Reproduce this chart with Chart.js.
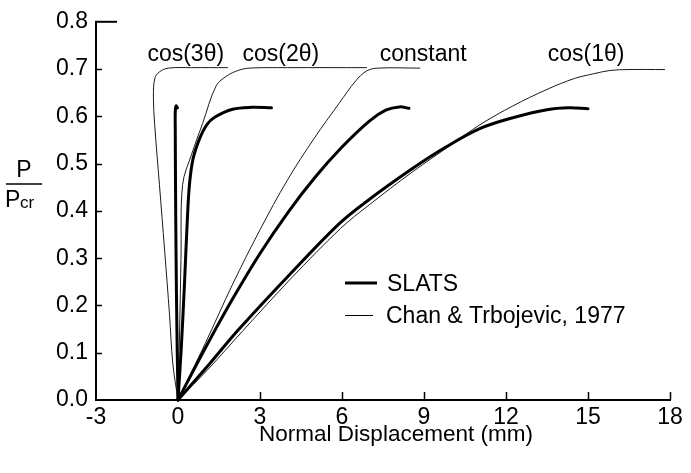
<!DOCTYPE html>
<html>
<head>
<meta charset="utf-8">
<script src="https://cdn.jsdelivr.net/npm/chart.js@4.4.0/dist/chart.umd.min.js"></script>
<style>
html,body{margin:0;padding:0;background:#fff;}
#wrap{width:691px;height:473px;position:relative;}
</style>
</head>
<body>
<div id="wrap"><canvas id="c" width="691" height="473"></canvas></div>
<script>
// ---- data ----
const xTickValues = [-3, 0, 3, 6, 9, 12, 15, 18];
const yTickValues = [0, 0.1, 0.2, 0.3, 0.4, 0.5, 0.6, 0.7, 0.8];
const curveNames = ['cos(3θ)', 'cos(2θ)', 'constant', 'cos(1θ)'];
const seriesNames = ['SLATS', 'Chan & Trbojevic, 1977'];
const xTitle = 'Normal Displacement (mm)';

// SLATS (thick) curves: [displacement mm, P/Pcr]
const slatsCos3 = [[0,0],[-0.04,0.15],[-0.07,0.3],[-0.09,0.45],[-0.1,0.57],[-0.1,0.61],[-0.07,0.622],[-0.02,0.618]];
const slatsCos2 = [[0,0],[0.12,0.11],[0.24,0.25],[0.34,0.38],[0.42,0.456],[0.55,0.51],[0.79,0.553],[1.05,0.582],[1.34,0.598],[2.0,0.615],[2.7,0.619],[3.42,0.618]];
const slatsConst = [[0,0],[1.0,0.11],[2.0,0.214],[3.0,0.31],[4.0,0.395],[5.0,0.47],[6.0,0.535],[7.0,0.59],[7.6,0.613],[8.1,0.62],[8.45,0.617]];
const slatsCos1 = [[0,0],[1.03,0.068],[2.25,0.151],[4.08,0.265],[5.9,0.373],[6.9,0.42],[8.59,0.49],[9.8,0.535],[11.04,0.574],[12.25,0.597],[13.5,0.614],[14.3,0.618],[15.0,0.616]];

// Chan & Trbojevic, 1977 (thin) curves
const chanCos3 = [[0,0],[-0.19,0.077],[-0.31,0.18],[-0.49,0.317],[-0.68,0.456],[-0.85,0.58],[-0.9,0.64],[-0.85,0.68],[-0.68,0.694],[-0.35,0.702],[0.5,0.703],[1.81,0.703]];
const chanCos2 = [[0,0],[0.06,0.15],[0.11,0.3],[0.17,0.456],[0.5,0.52],[0.9,0.585],[1.4,0.665],[1.8,0.686],[2.2,0.697],[2.6,0.702],[4.0,0.703],[6.9,0.703]];
const chanConst = [[0,0],[1.0,0.12],[2.0,0.245],[3.0,0.36],[4.0,0.465],[5.0,0.555],[5.9,0.628],[6.5,0.675],[6.9,0.696],[7.3,0.702],[8.85,0.702]];
const chanCos1 = [[0,0],[1.1,0.065],[2.35,0.145],[4.15,0.258],[5.95,0.363],[7.0,0.413],[8.59,0.483],[10.0,0.54],[11.04,0.582],[12.25,0.622],[13.5,0.657],[14.5,0.68],[15.2,0.69],[15.8,0.697],[16.5,0.699],[17.8,0.699]];

// ---- build ----
const FONT = "'Liberation Sans', Arial, Helvetica, sans-serif";
const toPts = a => a.map(([x, y]) => ({x, y}));
const thin = (name, arr) => ({label: name, data: toPts(arr), borderColor: '#1a1a1a', borderWidth: 1, clip: false, order: 2});
const thick = (name, arr) => ({label: name, data: toPts(arr), borderColor: '#000', borderWidth: 3, clip: false, order: 1});

const datasets = [
  thin(seriesNames[1] + ' ' + curveNames[0], chanCos3),
  thin(seriesNames[1] + ' ' + curveNames[1], chanCos2),
  thin(seriesNames[1] + ' ' + curveNames[2], chanConst),
  thin(seriesNames[1] + ' ' + curveNames[3], chanCos1),
  thick(seriesNames[0] + ' ' + curveNames[0], slatsCos3),
  thick(seriesNames[0] + ' ' + curveNames[1], slatsCos2),
  thick(seriesNames[0] + ' ' + curveNames[2], slatsConst),
  thick(seriesNames[0] + ' ' + curveNames[3], slatsCos1)
];

const decor = {
  id: 'decor',
  afterDraw(chart) {
    const ctx = chart.ctx, xs = chart.scales.x, ys = chart.scales.y, a = chart.chartArea;
    ctx.save();
    ctx.strokeStyle = '#000';
    ctx.fillStyle = '#000';
    // inward tick marks
    ctx.lineWidth = 1.5;
    ctx.beginPath();
    xTickValues.forEach(v => {
      if (v <= xTickValues[0]) return;
      const px = Math.round(xs.getPixelForValue(v)) + 0.5;
      ctx.moveTo(px, a.bottom); ctx.lineTo(px, a.bottom - 8);
    });
    yTickValues.forEach((v, i) => {
      if (i === 0 || i === yTickValues.length - 1) return;
      const py = Math.round(ys.getPixelForValue(v)) + 0.5;
      ctx.moveTo(a.left, py); ctx.lineTo(a.left + 6, py);
    });
    ctx.stroke();
    ctx.lineWidth = 2;
    ctx.beginPath();
    const pt = ys.getPixelForValue(yTickValues[yTickValues.length - 1]);
    ctx.moveTo(a.left - 1, pt); ctx.lineTo(a.left + 21, pt);
    ctx.stroke();

    // curve labels
    ctx.font = '23px ' + FONT;
    ctx.textAlign = 'left';
    ctx.textBaseline = 'alphabetic';
    const anchors = [-1.12, 2.36, 7.38, 13.53];
    curveNames.forEach((n, i) => {
      ctx.fillText(n, xs.getPixelForValue(anchors[i]), ys.getPixelForValue(0.718));
    });

    // legend
    ctx.lineWidth = 3;
    ctx.beginPath(); ctx.moveTo(345, 283); ctx.lineTo(377, 283); ctx.stroke();
    ctx.fillText(seriesNames[0], 387, 291);
    ctx.lineWidth = 1;
    ctx.beginPath(); ctx.moveTo(345, 315.5); ctx.lineTo(373, 315.5); ctx.stroke();
    ctx.fillText(seriesNames[1], 386, 323);

    // y title  P / Pcr
    ctx.textAlign = 'center';
    ctx.fillText('P', 24, 177);
    ctx.lineWidth = 1.5;
    ctx.beginPath(); ctx.moveTo(6, 184); ctx.lineTo(42, 184); ctx.stroke();
    ctx.textAlign = 'left';
    ctx.fillText('P', 5, 207);
    ctx.font = '17px ' + FONT;
    ctx.fillText('cr', 20, 208);

    // x title
    ctx.font = '22.5px ' + FONT;
    ctx.textAlign = 'center';
    ctx.fillText(xTitle, (a.left + a.right) / 2 + 13, 441);
    ctx.restore();
  }
};

new Chart(document.getElementById('c'), {
  type: 'scatter',
  data: {datasets},
  options: {
    responsive: false,
    animation: false,
    devicePixelRatio: 1,
    showLine: true,
    layout: {padding: {top: 14, right: 21, left: 0, bottom: 0}},
    plugins: {legend: {display: false}, tooltip: {enabled: false}},
    elements: {
      point: {radius: 0, hoverRadius: 0},
      line: {tension: 0.35, borderCapStyle: 'round', borderJoinStyle: 'round', fill: false}
    },
    scales: {
      x: {
        type: 'linear', min: -3, max: 18,
        afterBuildTicks: s => { s.ticks = xTickValues.map(v => ({value: v})); },
        ticks: {color: '#000', font: {family: FONT, size: 23}, padding: 4, maxRotation: 0, autoSkip: false},
        grid: {display: true, drawOnChartArea: false, drawTicks: false},
        border: {display: true, color: '#000', width: 2},
        afterFit: s => { s.height = 73; }
      },
      y: {
        type: 'linear', min: 0, max: 0.8,
        afterBuildTicks: s => { s.ticks = yTickValues.map(v => ({value: v})); },
        ticks: {color: '#000', font: {family: FONT, size: 23}, padding: 8, callback: v => Number(v).toFixed(1)},
        grid: {display: true, drawOnChartArea: false, drawTicks: false},
        border: {display: true, color: '#000', width: 2},
        afterFit: s => { s.width = 96; }
      }
    }
  },
  plugins: [decor]
});
</script>
</body>
</html>
